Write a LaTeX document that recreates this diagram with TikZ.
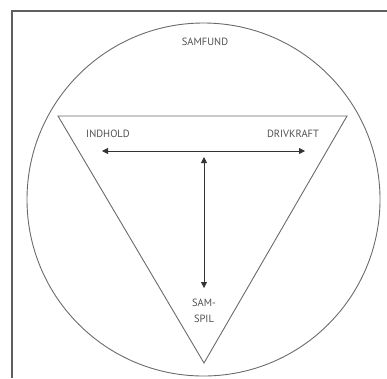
\documentclass[tikz,border=0pt]{standalone}
\usepackage{fontspec}
\setmainfont{PT Sans}
\usetikzlibrary{arrows.meta}
\definecolor{ln}{HTML}{6A6A6A}
\definecolor{tx}{HTML}{505050}
\tikzset{
  shape line/.style={draw=ln, line width=0.9pt},
  frame line/.style={draw=ln!90!black, line width=1.6pt},
  dbl arrow/.style={draw=black!80, line width=0.8pt, {Triangle[length=6pt,width=6pt]}-{Triangle[length=6pt,width=6pt]}},
  lbl/.style={text=tx, font=\fontsize{10.5}{12}\selectfont, inner sep=0pt, align=center}
}
\begin{document}
\begin{tikzpicture}[x=1pt,y=-1pt]
\useasboundingbox (0,0) rectangle (387,378);
% frame (left and top)
\coordinate (fbl) at (12,378);
\coordinate (ftl) at (12,11);
\coordinate (ftr) at (387,11);
\draw[frame line] (fbl) -- (ftl) -- (ftr);
% circle
\node[shape line, circle, minimum size=353pt, inner sep=0pt] (samfundcircle) at (203.5,199.5) {};
% triangle
\coordinate (tl) at (58,116);
\coordinate (tr) at (347,116);
\coordinate (tb) at (204,363);
\draw[shape line, line join=miter] (tl) -- (tr) -- (tb) -- cycle;
% labels
\node[lbl] (samfund) at (205,42) {SAMFUND};
\node[lbl] (indhold) at (108,134) {INDHOLD};
\node[lbl] (drivkraft) at (293,134) {DRIVKRAFT};
\node[lbl, font=\fontsize{10.5}{16}\selectfont] (samspil) at (204,311) {SAM-\\SPIL};
% arrows
\coordinate (hl) at (102,151);
\coordinate (hr) at (305,151);
\coordinate (vt) at (204,157);
\coordinate (vb) at (204,288);
\draw[dbl arrow] (hl) -- (hr);
\draw[dbl arrow] (vt) -- (vb);
\end{tikzpicture}
\end{document}
